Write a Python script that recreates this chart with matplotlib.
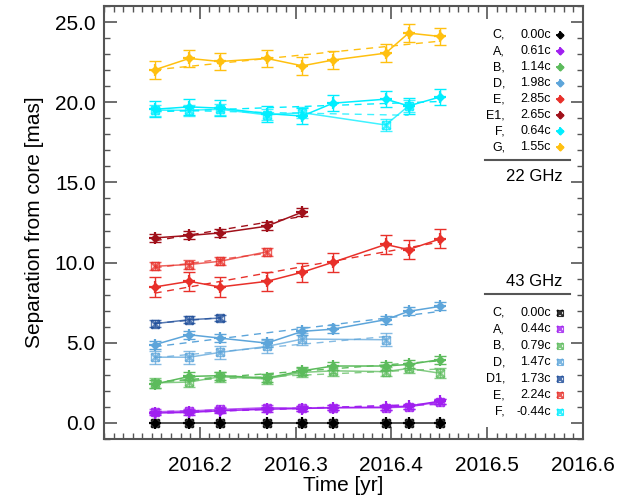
import numpy as np
import matplotlib
matplotlib.use("Agg")
import matplotlib.pyplot as plt
from matplotlib.ticker import MultipleLocator, FormatStrFormatter

plt.rcParams['font.family'] = ['Liberation Sans', 'DejaVu Sans']

# ---------------- data ----------------
epochs = [2016.153, 2016.189, 2016.221, 2016.270, 2016.307,
          2016.339, 2016.394, 2016.418, 2016.451]

# 22 GHz components (diamonds)
c22_y = [0.0, 0.0, 0.0, 0.0, 0.0, 0.0, 0.0, 0.0, 0.0]
a22_y = [0.62, 0.66, 0.76, 0.86, 0.90, 0.95, 0.98, 1.05, 1.36]
b22_y = [2.42, 2.90, 2.95, 2.80, 3.25, 3.55, 3.55, 3.65, 3.95]
d22_y = [4.88, 5.50, 5.29, 4.98, 5.71, 5.85, 6.44, 6.96, 7.27]
e22_y = [8.48, 8.83, 8.48, 8.83, 9.40, 10.02, 11.13, 10.81, 11.48]
e1_22_y = [11.54, 11.69, 11.85, 12.27, 13.15]
f22_y = [19.56, 19.71, 19.63, 19.29, 19.14, 19.94, 20.19, 19.77, 20.33]
g22_y = [22.02, 22.73, 22.54, 22.73, 22.27, 22.63, 23.06, 24.31, 24.10]

# 43 GHz components (crosses)
c43_y = [0.0, 0.0, 0.0, 0.0, 0.0, 0.0, 0.0, 0.0, 0.0]
a43_y = [0.70, 0.74, 0.84, 0.95, 0.92, 0.96, 0.95, 1.00, 1.32]
b43_y = [2.50, 2.55, 2.88, 2.75, 3.15, 3.25, 3.20, 3.40, 3.10]
d43_idx = [0, 1, 2, 3, 4, 6]
d43_y = [4.10, 4.10, 4.40, 4.77, 5.23, 5.19]
d1_43_y = [6.19, 6.44, 6.54]
e43_y = [9.77, 9.88, 10.08, 10.67]
f43_idx = [0, 1, 2, 3, 4, 6, 7]
f43_y = [19.50, 19.50, 19.56, 19.21, 19.35, 18.58, 19.77]

# errors
err22 = {'C': 0.0, 'A': 0.15, 'B': 0.25, 'D': 0.25, 'E': 0.6, 'E1': 0.25,
         'F': 0.5, 'G': 0.55}
err43 = {'C': 0.0, 'A': 0.15, 'B': 0.3, 'D': 0.4, 'D1': 0.2, 'E': 0.25,
         'F': 0.35}

labels22 = ['C', 'A', 'B', 'D', 'E', 'E1', 'F', 'G']
speeds22 = ['0.00c', '0.61c', '1.14c', '1.98c', '2.85c', '2.65c', '0.64c', '1.55c']
labels43 = ['C', 'A', 'B', 'D', 'D1', 'E', 'F']
speeds43 = ['0.00c', '0.44c', '0.79c', '1.47c', '1.73c', '2.24c', '-0.44c']

colors = {'C': '#000000', 'A': '#A020F0', 'B': '#5CBB5C', 'D': '#5DA5DA',
          'D1': '#1F4E9A', 'E': '#E8302A', 'E1': '#A0101A', 'F': '#00EEFF',
          'G': '#FFC010'}

t = np.array(epochs)
series22 = {
    'C': (t, c22_y), 'A': (t, a22_y), 'B': (t, b22_y), 'D': (t, d22_y),
    'E': (t, e22_y), 'E1': (t[:5], e1_22_y), 'F': (t, f22_y), 'G': (t, g22_y),
}
series43 = {
    'C': (t, c43_y), 'A': (t, a43_y), 'B': (t, b43_y), 'D': (t[d43_idx], d43_y),
    'D1': (t[:3], d1_43_y), 'E': (t[:4], e43_y), 'F': (t[f43_idx], f43_y),
}

# ---------------- figure ----------------
fig = plt.figure(figsize=(6.28, 5.04), dpi=100)
ax = fig.add_axes([0.1656, 0.1290, 0.7627, 0.8591])


def draw(series, errs, marker, alpha):
    for name, (x, y) in series.items():
        x = np.asarray(x)
        y = np.asarray(y)
        col = colors[name]
        e = errs[name]
        lcol = '#444444' if name == 'C' else col
        if e > 0:
            ax.errorbar(x, y, yerr=e, fmt='none', ecolor=col, elinewidth=1.0,
                        capsize=4, capthick=1.0, alpha=alpha, zorder=2)
        ax.plot(x, y, '-', color=lcol, lw=1.1, alpha=alpha, zorder=3)
        if name != 'C':
            p = np.polyfit(x, y, 1)
            ax.plot(x, np.polyval(p, x), '--', color=col, lw=1.0,
                    dashes=(5, 4), alpha=alpha, zorder=2)
        if marker == 'D':
            ax.plot(x, y, 'D', color=col, ms=4.5, alpha=alpha, zorder=4)
            ax.plot(x, y, '+', color=col, ms=8, mew=1.6, alpha=alpha, zorder=4)
        else:
            ax.plot(x, y, 'x', color=col, ms=6, mew=1.8, alpha=alpha, zorder=4)
            ax.plot(x, y, 's', mfc='none', mec=col, ms=6, mew=1.0,
                    alpha=alpha, zorder=4)


draw(series43, err43, 'X', 0.75)
draw(series22, err22, 'D', 1.0)

ax.set_xlim(2016.1, 2016.6)
ax.set_ylim(-1.0, 26.0)
ax.xaxis.set_major_locator(MultipleLocator(0.1))
ax.xaxis.set_minor_locator(MultipleLocator(0.01))
ax.yaxis.set_major_locator(MultipleLocator(5.0))
ax.yaxis.set_minor_locator(MultipleLocator(1.0))
ax.yaxis.set_major_formatter(FormatStrFormatter('%.1f'))
ax.set_xticks([2016.2, 2016.3, 2016.4, 2016.5, 2016.6])
ax.set_xticklabels(['2016.2', '2016.3', '2016.4', '2016.5', '2016.6'])
ax.tick_params(which='both', direction='in', top=True, right=True,
               labelsize=15, color='#555555')
ax.tick_params(which='major', length=9, width=1.2)
ax.tick_params(which='minor', length=4.5, width=1.0)
ax.tick_params(axis='x', which='major', pad=12)
ax.tick_params(axis='y', which='major', pad=6)
for s in ax.spines.values():
    s.set_linewidth(1.5)
    s.set_color('#555555')

ax.set_xlabel('Time [yr]', fontsize=15, labelpad=1)
ax.set_ylabel('Separation from core [mas]', fontsize=15, labelpad=8)

# ---------------- legend ----------------
H = 433.0


def ay(p):
    return (439.0 - p) / H


x_name, x_val, x_mark = 0.837, 0.933, 0.952
lfs = 9
for i, (nm, sp) in enumerate(zip(labels22, speeds22)):
    y = ay(35 + 16.05 * i)
    ax.text(x_name, y, nm + ',', transform=ax.transAxes, ha='right',
            va='center', fontsize=lfs)
    ax.text(x_val, y, sp, transform=ax.transAxes, ha='right',
            va='center', fontsize=lfs)
    ax.plot([x_mark], [y], 'D', color=colors[nm], ms=3.5,
            transform=ax.transAxes, clip_on=False)
    ax.plot([x_mark], [y], '+', color=colors[nm], ms=6, mew=1.3,
            transform=ax.transAxes, clip_on=False)
ax.plot([0.795, 0.973], [ay(160), ay(160)], color='#555555', lw=1.5,
        transform=ax.transAxes)
ax.text(0.958, ay(177), '22 GHz', transform=ax.transAxes, ha='right',
        va='center', fontsize=12)

ax.text(0.958, ay(281.7), '43 GHz', transform=ax.transAxes, ha='right',
        va='center', fontsize=12)
ax.plot([0.795, 0.973], [ay(294.3), ay(294.3)], color='#555555', lw=1.5,
        transform=ax.transAxes)
for i, (nm, sp) in enumerate(zip(labels43, speeds43)):
    y = ay(312.7 + 16.5 * i)
    ax.text(x_name, y, nm + ',', transform=ax.transAxes, ha='right',
            va='center', fontsize=lfs)
    ax.text(x_val, y, sp, transform=ax.transAxes, ha='right',
            va='center', fontsize=lfs)
    ax.plot([x_mark], [y], 'x', color=colors[nm], ms=5, mew=1.6, alpha=0.8,
            transform=ax.transAxes, clip_on=False)
    ax.plot([x_mark], [y], 's', mfc='none', mec=colors[nm], ms=5, mew=0.8,
            alpha=0.8, transform=ax.transAxes, clip_on=False)

fig.savefig('out.png', dpi=100)
